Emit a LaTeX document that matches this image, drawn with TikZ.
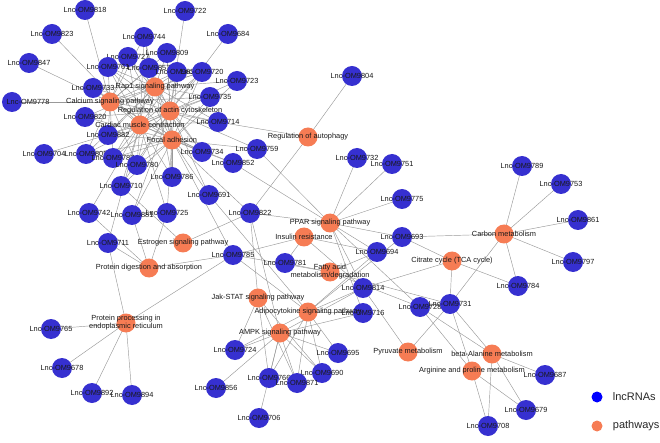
\documentclass[tikz,border=0pt]{standalone}
\usepackage{fontspec}
\newfontfamily\lblfont{Liberation Sans}
\usetikzlibrary{backgrounds,positioning}
\definecolor{lncblue}{RGB}{54,48,208}
\definecolor{pworange}{RGB}{246,124,84}

\begin{document}
\begin{tikzpicture}[x=1pt, y=-1pt,
  lnc/.style={circle, fill=lncblue, minimum size=20pt, inner sep=0pt},
  pw/.style={circle, fill=pworange, minimum size=19pt, inner sep=0pt},
  lbl/.style={font=\lblfont\fontsize{7.4}{8}\selectfont, text=black!90, align=center, inner sep=0pt},
  edge/.style={draw=black!40, line width=0.45pt},
  legdot/.style={circle, minimum size=11pt, inner sep=0pt},
  legtext/.style={font=\lblfont\fontsize{11}{13}\selectfont, text=black!85, inner sep=0pt}
]
\useasboundingbox (0,0) rectangle (660,443);

% lncRNA nodes
\foreach \n/\x/\y in {9818/85/10, 9722/185/11, 9823/52/34, 9744/144/37, 9684/228/34,
  9727/128/57, 9809/167/53, 9847/29/63, 9761/108/67, 9857/149/68, 9830/177/72,
  9720/202/72, 9723/237/81, 9733/93/88, 9735/210/97, 9820/85/117,
  9714/218/122, 9882/108/135, 9704/44/154, 9805/86/154, 9787/113/158, 9734/202/152,
  9780/137/165, 9759/257/149, 9852/233/163, 9804/352/76, 9786/172/177, 9710/121/186,
  9691/209/195, 9742/89/213, 9881/132/215, 9725/167/213, 9711/108/243, 9822/250/213,
  9785/233/255, 9732/357/158, 9751/392/164, 9775/402/199, 9693/402/237, 9694/377/252,
  9781/285/263, 9814/363/288, 9716/363/313, 9789/522/166, 9753/561/184, 9861/578/220,
  9797/573/262, 9784/518/286, 9728/420/307, 9731/450/304, 9687/545/375, 9679/526/410,
  9708/488/426, 9765/51/329, 9678/62/368, 9892/92/393, 9894/132/395, 9724/235/350,
  9856/216/388, 9695/338/353, 9690/322/373, 9766/269/378, 9871/297/383, 9706/259/418}
  \node[lnc, label={[lbl]center:Lnc-OM\n}] (L\n) at (\x,\y) {};
\node[lnc, label={[lbl, xshift=16pt]center:Lnc-OM9778}] (L9778) at (12,102) {};

% pathway nodes
\node[pw, label={[lbl]center:Rap1 signaling pathway}] (rap) at (155,87) {};
\node[pw, label={[lbl]center:Calcium signaling pathway}] (cal) at (110,102) {};
\node[pw, label={[lbl]center:Regulation of actin cytoskeleton}] (act) at (170,111) {};
\node[pw, label={[lbl]center:Cardiac muscle contraction}] (car) at (140,125) {};
\node[pw, label={[lbl]center:Focal adhesion}] (foc) at (172,140) {};
\node[pw, label={[lbl]center:Regulation of autophagy}] (aut) at (308,137) {};
\node[pw, label={[lbl]center:Estrogen signaling pathway}] (est) at (183,243) {};
\node[pw, label={[lbl]center:Protein digestion and absorption}] (dig) at (149,268) {};
\node[pw, label={[lbl]center:{Protein processing in\\endoplasmic reticulum}}] (proc) at (126,323) {};
\node[pw, label={[lbl]center:PPAR signaling pathway}] (ppar) at (330,223) {};
\node[pw, label={[lbl]center:Insulin resistance}] (ins) at (304,237) {};
\node[pw, label={[lbl]center:{Fatty acid\\metabolism/degradation}}] (fat) at (330,272) {};
\node[pw, label={[lbl]center:Jak-STAT signaling pathway}] (jak) at (258,298) {};
\node[pw, label={[lbl]center:Adipocytokine signaling pathway}] (adi) at (308,312) {};
\node[pw, label={[lbl]center:AMPK signaling pathway}] (ampk) at (280,333) {};
\node[pw, label={[lbl]center:Pyruvate metabolism}] (pyr) at (408,352) {};
\node[pw, label={[lbl]center:Carbon metabolism}] (carb) at (504,234) {};
\node[pw, label={[lbl]center:Citrate cycle (TCA cycle)}] (tca) at (452,261) {};
\node[pw, label={[lbl]center:beta-Alanine metabolism}] (bala) at (492,354) {};
\node[pw, label={[lbl]center:Arginine and proline metabolism}] (arg) at (472,371) {};

% links pathway -- lncRNA
\begin{scope}[on background layer]
\foreach \p/\ls in {
  rap/{9744,9727,9809,9761,9857,9830,9720,9723,9733,9735,9820,9714,9882,9805,9787,9734,9780,9786},
  cal/{9818,9847,9778,9744,9727,9809,9761,9857,9830,9720,9735,9714,9882,9805,9787,9734,9780},
  act/{9722,9684,9727,9809,9761,9857,9830,9720,9723,9733,9735,9820,9714,9882,9805,9787,9734,9780,9786,9710,9881,9691,9759},
  car/{9823,9704,9744,9727,9761,9857,9830,9720,9733,9735,9714,9787,9734,9780,9786,9710,9742,9725,9711,9852},
  foc/{9744,9727,9809,9761,9857,9830,9720,9723,9733,9735,9820,9882,9805,9787,9734,9780,9786,9710,9881,9725,9691,9759,9852,9822,9785},
  aut/{9804,9714,9822},
  est/{9710,9822},
  dig/{9742,9881,9725,9711,9785},
  proc/{9765,9678,9892,9894,9711,9785},
  ppar/{9732,9751,9775,9759,9852,9822,9693,9694,9814,9716,9728},
  ins/{9785,9781,9814,9694},
  fat/{9785,9781,9694,9731,9728},
  jak/{9822,9724,9766,9871,9690},
  adi/{9785,9691,9695,9690,9871,9766,9724,9814,9694,9693,9716},
  ampk/{9822,9724,9766,9871,9690,9695,9856,9706,9814,9716},
  tca/{9693,9731,9784,9814},
  carb/{9789,9753,9861,9797,9784,9693,9731},
  pyr/{9731,9814},
  bala/{9728,9731,9687,9679,9708},
  arg/{9728,9731,9679,9708}}
  \foreach \l in \ls
    \draw[edge] (\p.center) -- (L\l.center);
\end{scope}

% legend
\node[legdot, fill=blue] (keylnc) at (597,397) {};
\node[legtext, right=10pt of keylnc] (keylnctext) {lncRNAs};
\node[legdot, fill=pworange] (keypw) at (597,426) {};
\node[legtext, right=10pt of keypw] (keypwtext) {pathways};
\end{tikzpicture}
\end{document}
